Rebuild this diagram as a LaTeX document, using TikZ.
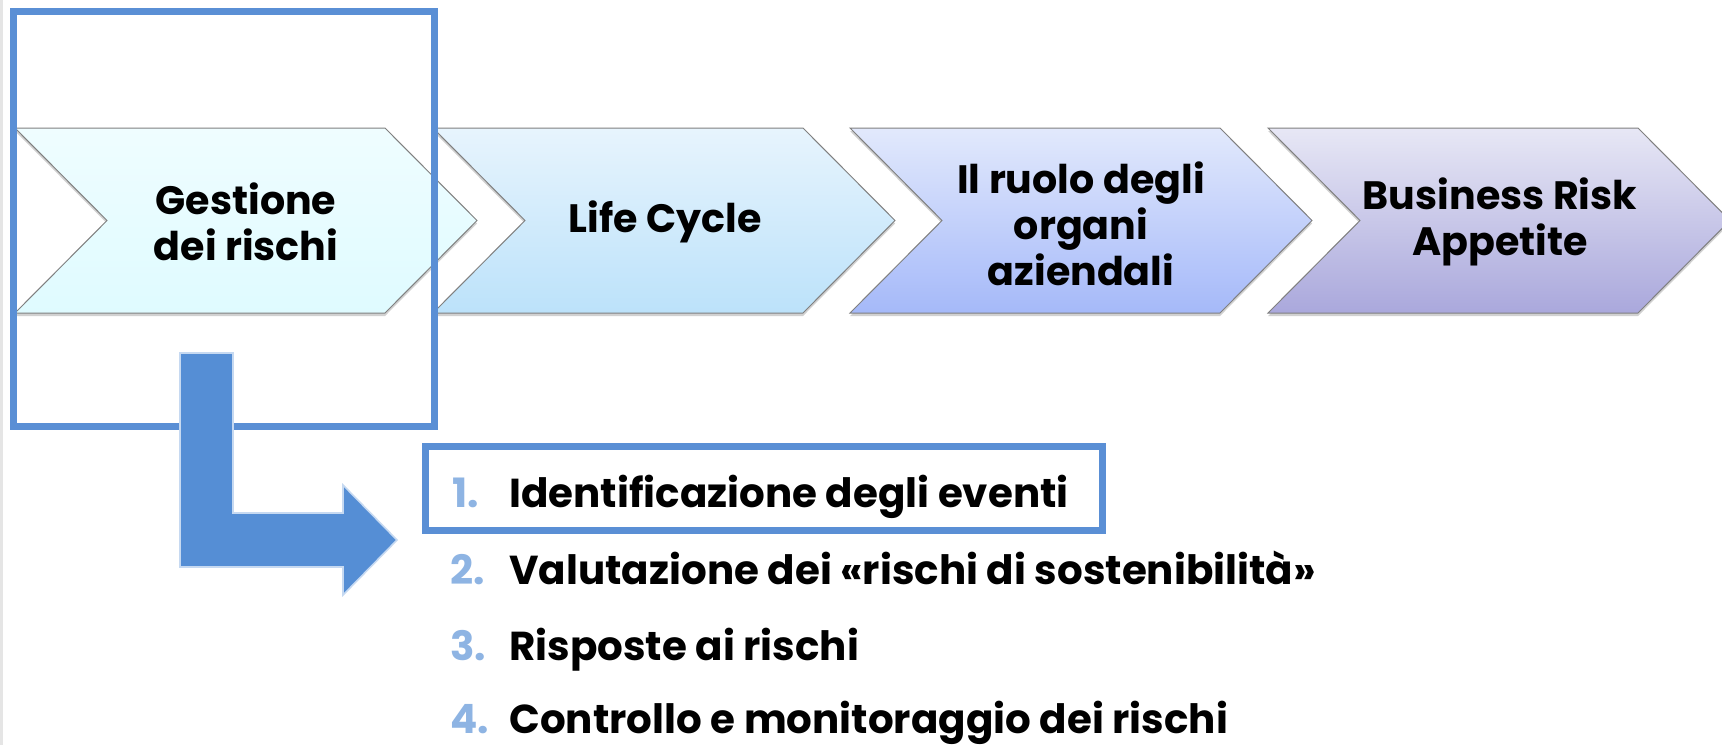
\documentclass[tikz,border=0pt]{standalone}
\usepackage{fontspec}
\setmainfont{Poppins}
\definecolor{boxblue}{HTML}{5A8FD5}
\definecolor{arrowblue}{HTML}{558ED5}
\definecolor{arrowedge}{HTML}{C6D9F1}
\definecolor{numblue}{HTML}{8EB4E3}
\definecolor{chevAtop}{HTML}{EFFDFF}
\definecolor{chevAbot}{HTML}{DFFBFF}
\definecolor{chevBtop}{HTML}{E7F4FD}
\definecolor{chevBbot}{HTML}{BCE2FA}
\definecolor{chevCtop}{HTML}{E2E9FC}
\definecolor{chevCbot}{HTML}{A5B9F9}
\definecolor{chevDtop}{HTML}{E7E7F5}
\definecolor{chevDbot}{HTML}{AAA8DC}
\tikzset{
  chev/.style={draw=black!50, line width=0.5pt},
  chevshadow/.style={fill=black!18},
  chevtext/.style={font=\fontsize{19.8}{23}\selectfont\bfseries, align=center, text=black},
  listnum/.style={font=\fontsize{20.2}{23}\selectfont\bfseries, text=numblue, anchor=base west, inner sep=0pt},
  listtext/.style={font=\fontsize{20.2}{23}\selectfont\bfseries, anchor=base west, inner sep=0pt}
}
\begin{document}
\begin{tikzpicture}[x=0.5pt, y=-0.5pt]
    \useasboundingbox (0,0) rectangle (1722,745);
    \fill [white] (0,0) rectangle (1722,745);
    \fill [black!10] (0,0) rectangle (3,745);
    % chevrons: shadow, then shape
    \fill [chevshadow] (15,131) -- (385,131) -- (477,223.5) -- (385,316) -- (15,316) -- (107,223.5) -- cycle;
    \draw [chev, top color=chevAtop, bottom color=chevAbot] (15,128) -- (385,128) -- (477,220.5) -- (385,313) -- (15,313) -- (107,220.5) -- cycle;
    \fill [chevshadow] (433,131) -- (803,131) -- (895,223.5) -- (803,316) -- (433,316) -- (525,223.5) -- cycle;
    \draw [chev, top color=chevBtop, bottom color=chevBbot] (433,128) -- (803,128) -- (895,220.5) -- (803,313) -- (433,313) -- (525,220.5) -- cycle;
    \fill [chevshadow] (850,131) -- (1220,131) -- (1312,223.5) -- (1220,316) -- (850,316) -- (942,223.5) -- cycle;
    \draw [chev, top color=chevCtop, bottom color=chevCbot] (850,128) -- (1220,128) -- (1312,220.5) -- (1220,313) -- (850,313) -- (942,220.5) -- cycle;
    \fill [chevshadow] (1268,131) -- (1638,131) -- (1730,223.5) -- (1638,316) -- (1268,316) -- (1360,223.5) -- cycle;
    \draw [chev, top color=chevDtop, bottom color=chevDbot] (1268,128) -- (1638,128) -- (1730,220.5) -- (1638,313) -- (1268,313) -- (1360,220.5) -- cycle;
    \node [chevtext] (gestione) at (246,222) {Gestione\\dei rischi};
    \node [chevtext] (lifecycle) at (665,222) {Life Cycle};
    \node [chevtext] (ruolo) at (1081,224) {Il ruolo degli\\organi\\aziendali};
    \node [chevtext] (appetite) at (1500,222) {Business Risk\\Appetite};
    % frame round the first step
    \draw [boxblue, line width=3.5pt] (13.5,11.5) rectangle (434.5,426.5);
    % bent arrow
    \draw [fill=arrowblue, draw=arrowedge, line width=0.8pt] (180,353) -- (233,353) -- (233,513) -- (343,513) -- (343,485) -- (397,540) -- (343,595) -- (343,567) -- (180,567) -- cycle;
    % list
    \draw [boxblue, line width=3.5pt] (425.5,446.5) rectangle (1102.5,530.5);
    \node [listnum] (num1) at (452,507) {1.};
    \node [listtext] (item1) at (509,507) {Identificazione degli eventi};
    \node [listnum] (num2) at (450,584) {2.};
    \node [listtext] (item2) at (509,584) {Valutazione dei «rischi di sostenibilità»};
    \node [listnum] (num3) at (450,660) {3.};
    \node [listtext] (item3) at (509,660) {Risposte ai rischi};
    \node [listnum] (num4) at (450,733) {4.};
    \node [listtext] (item4) at (509,733) {Controllo e monitoraggio dei rischi};
\end{tikzpicture}
\end{document}
